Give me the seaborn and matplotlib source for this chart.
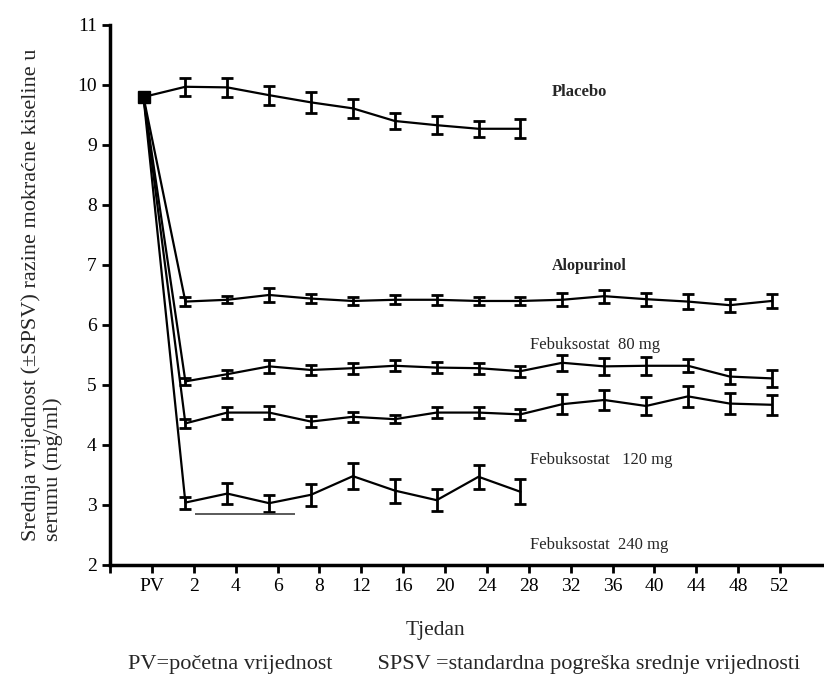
import matplotlib
matplotlib.use("Agg")
import numpy as np
import pandas as pd
import matplotlib.pyplot as plt
import seaborn as sns

weeks = ["PV", "2", "4", "6", "8", "12", "16", "20", "24", "28",
         "32", "36", "40", "44", "48", "52"]
baseline = 9.8

placebo = [9.97, 9.96, 9.83, 9.71, 9.61, 9.40, 9.33, 9.27, 9.27]
placebo_err = [0.15, 0.16, 0.16, 0.17, 0.155, 0.13, 0.145, 0.13, 0.16]
alopurinol = [6.39, 6.42, 6.50, 6.44, 6.40, 6.42, 6.42, 6.40, 6.40,
              6.42, 6.48, 6.43, 6.39, 6.33, 6.40]
alopurinol_err = [0.07, 0.055, 0.12, 0.08, 0.065, 0.075, 0.08, 0.06, 0.06,
                  0.11, 0.11, 0.11, 0.12, 0.11, 0.11]
feb80 = [5.06, 5.18, 5.31, 5.25, 5.28, 5.32, 5.29, 5.28, 5.23,
         5.37, 5.31, 5.32, 5.32, 5.14, 5.11]
feb80_err = [0.055, 0.07, 0.105, 0.09, 0.09, 0.09, 0.09, 0.09, 0.09,
             0.13, 0.14, 0.15, 0.11, 0.13, 0.14]
feb120 = [4.36, 4.54, 4.54, 4.39, 4.47, 4.43, 4.54, 4.54, 4.51,
          4.68, 4.75, 4.65, 4.81, 4.69, 4.67]
feb120_err = [0.08, 0.10, 0.11, 0.09, 0.08, 0.07, 0.09, 0.09, 0.095,
              0.17, 0.16, 0.15, 0.18, 0.17, 0.17]
feb240 = [3.04, 3.19, 3.03, 3.17, 3.48, 3.24, 3.08, 3.47, 3.22]
feb240_err = [0.10, 0.17, 0.14, 0.18, 0.22, 0.20, 0.18, 0.20, 0.21]

groups = {
    "Placebo": (placebo, placebo_err),
    "Alopurinol": (alopurinol, alopurinol_err),
    "Febuksostat  80 mg": (feb80, feb80_err),
    "Febuksostat   120 mg": (feb120, feb120_err),
    "Febuksostat  240 mg": (feb240, feb240_err),
}

# tekst oznaka (x u indeksu tjedna, y u mg/ml, debljina)
label_pos = {
    "Placebo": (10.55, 9.88, "bold", 12),
    "Alopurinol": (10.55, 6.98, "bold", 11.5),
    "Febuksostat  80 mg": (10.02, 5.67, "normal", 12),
    "Febuksostat   120 mg": (10.02, 3.75, "normal", 12),
    "Febuksostat  240 mg": (10.02, 2.33, "normal", 12),
}
bar_y = 2.85
bar_x = (2.03, 4.42)

shift = 0.2  # tocke su malo lijevo od oznaka

rows = []
for name, (vals, errs) in groups.items():
    rows.append({"grupa": name, "x": 1 - shift, "y": baseline, "err": 0.0})
    for i, (v, e) in enumerate(zip(vals, errs)):
        rows.append({"grupa": name, "x": i + 2 - shift, "y": v, "err": e})
df = pd.DataFrame(rows)

sns.set_style("ticks")
plt.rcParams["font.family"] = ["Liberation Serif", "DejaVu Serif"]

fig = plt.figure(figsize=(8.24, 6.75), dpi=100)
ax = fig.add_axes([0.1335, 0.163, 0.864, 0.8])

sns.lineplot(data=df, x="x", y="y", units="grupa", estimator=None,
             color="black", linewidth=1.6, ax=ax, legend=False)

post = df[df["err"] > 0]
ax.errorbar(post["x"], post["y"], yerr=post["err"], fmt="none",
            ecolor="black", elinewidth=2, capsize=4.5, capthick=2)
ax.plot([1 - shift], [baseline], marker="s", color="black",
        markersize=9, linestyle="none")

ax.hlines(bar_y, bar_x[0], bar_x[1], color="0.3", linewidth=1.3)

for name, (lx, ly, wt, fs) in label_pos.items():
    ax.text(lx, ly, name, fontsize=fs, fontweight=wt,
            ha="left", va="center")

ax.set_xlim(0, 17)
ax.set_ylim(2, 11)
ax.set_xticks(range(0, 17))
ax.set_xticklabels([""] + weeks)
ax.set_yticks(range(2, 12))
ax.tick_params(axis="both", direction="out", length=6, width=2,
               labelsize=14, colors="black")
for s in ["left", "bottom"]:
    ax.spines[s].set_linewidth(2.5)
    ax.spines[s].set_color("black")
sns.despine(ax=ax)
ax.set_xlabel("")
ax.set_ylabel("Srednja vrijednost (±SPSV) razine mokraćne kiseline u\nserumu (mg/ml)",
              fontsize=16, labelpad=10)
ax.yaxis.label.set_multialignment("left")

fig.text(435 / 824, 1 - 630 / 675, "Tjedan", fontsize=15.5,
         ha="center", va="center")
fig.text(128 / 824, 1 - 665 / 675,
         "PV=početna vrijednost        SPSV =standardna pogreška srednje vrijednosti",
         fontsize=16, ha="left", va="center")

fig.savefig("out.png", dpi=100)
